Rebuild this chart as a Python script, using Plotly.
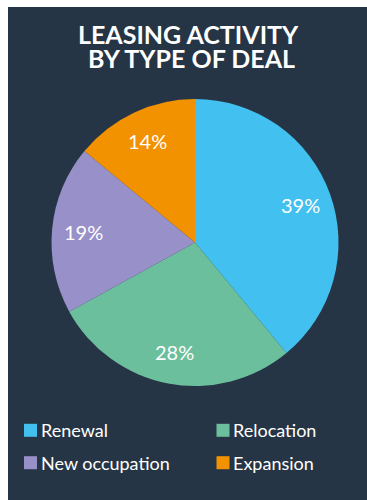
import math
import plotly.graph_objects as go

labels = ["Renewal", "Relocation", "New occupation", "Expansion"]
values = [39, 28, 19, 14]
colors = ["#42C0EF", "#6CBF9C", "#9890C8", "#F39200"]
title_lines = ["LEASING ACTIVITY", "BY TYPE OF DEAL"]

W, H = 367, 500
BG = "#263545"

# pie placement (pixels)
PX0, PX1, PY0, PY1 = 51, 339, 99, 386
cx, cy = (PX0 + PX1) / 2, (PY0 + PY1) / 2
r = min(PX1 - PX0, PY1 - PY0) / 2

fig = go.Figure(go.Pie(
    labels=labels, values=values, sort=False, direction="clockwise", rotation=0,
    marker=dict(colors=colors, line=dict(width=0)),
    textinfo="none",
    domain=dict(x=[PX0 / W, PX1 / W], y=[1 - PY1 / H, 1 - PY0 / H]),
    hoverinfo="label+percent", showlegend=False,
))

# background frame (white strips on top and left)
fig.add_shape(type="rect", xref="paper", yref="paper", x0=0, x1=8 / W, y0=0, y1=1,
              fillcolor="white", line_width=0, layer="below")
fig.add_shape(type="rect", xref="paper", yref="paper", x0=0, x1=1, y0=1 - 7 / H, y1=1,
              fillcolor="white", line_width=0, layer="below")

# title
for i, (t, yc) in enumerate(zip(title_lines, [34, 58])):
    fig.add_annotation(text="<b>" + t + "</b>", xref="paper", yref="paper",
                       x=(188 if i == 0 else 192) / W, y=1 - yc / H, showarrow=False,
                       xanchor="center", yanchor="middle", height=24,
                       font=dict(family="Lato", size=25, color="white"))

# percentage labels computed from the values
total = sum(values)
cum = 0
k = 0.78
for v in values:
    th = 2 * math.pi * (cum + v / 2) / total
    cum += v
    x = cx + k * r * math.sin(th)
    y = cy - k * r * math.cos(th)
    fig.add_annotation(text=f"{round(100 * v / total)}%", xref="paper", yref="paper",
                       x=x / W, y=1 - y / H, showarrow=False, xanchor="center", yanchor="middle",
                       font=dict(family="Lato", size=20, color="white"))

# legend (2 columns)
col_x = [24, 216.5]
row_y = [430.3, 462.7]
sq = 13
for i, (lab, col) in enumerate(zip(labels, colors)):
    x0 = col_x[i % 2]
    yc = row_y[i // 2]
    fig.add_shape(type="rect", xref="paper", yref="paper",
                  x0=x0 / W, x1=(x0 + sq) / W, y0=1 - (yc + sq / 2) / H, y1=1 - (yc - sq / 2) / H,
                  fillcolor=col, line_width=0)
    fig.add_annotation(text=lab, xref="paper", yref="paper", x=(x0 + sq + 1.5) / W, y=1 - yc / H,
                       showarrow=False, xanchor="left", yanchor="middle",
                       font=dict(family="Lato", size=18, color="white"))

fig.update_layout(
    width=W, height=H, margin=dict(l=0, r=0, t=0, b=0, autoexpand=False),
    paper_bgcolor=BG, plot_bgcolor=BG,
    showlegend=False,
)

fig.write_html("out.html")
